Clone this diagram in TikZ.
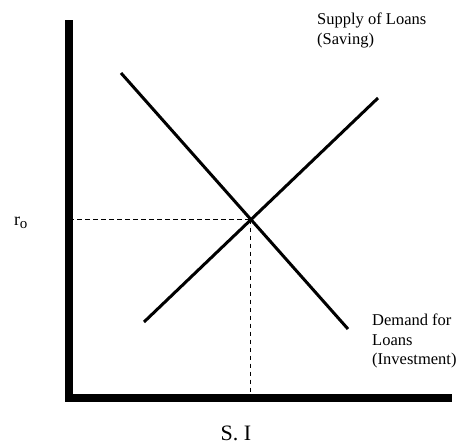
\documentclass[tikz,border=0pt]{standalone}
\usepackage{fontspec}
\setmainfont{Liberation Serif}
\usetikzlibrary{intersections}

\begin{document}
\begin{tikzpicture}[
    x=1pt, y=-1pt,
    font=\fontsize{16.5}{19.5}\selectfont,
    axis/.style={line width=8pt},
    curve/.style={line width=3pt},
    guide/.style={line width=1pt, dash pattern=on 4.5pt off 3.5pt},
    lbl/.style={align=left, inner sep=0pt}
]
\useasboundingbox (0,0) rectangle (460,445);

% Axes corners
\coordinate (ytop) at (69,20);
\coordinate (origin) at (69,398);
\coordinate (xend) at (452,398);

% Curves
\path[name path=demand] (121,73) coordinate (d1) -- (348,329) coordinate (d2);
\path[name path=supply] (144,322) coordinate (s1) -- (378,98) coordinate (s2);
\path[name intersections={of=demand and supply, by=eq}];

% Guides to the equilibrium
\draw[guide] (origin |- eq) -- (eq);
\draw[guide] (eq) -- (eq |- origin);

\draw[curve] (d1) -- (d2);
\draw[curve] (s1) -- (s2);

\draw[axis] (ytop) -- (origin) -- (xend);

% Labels
\node[font=\fontsize{18}{20}\selectfont] (rate) at (21,223) {r\textsubscript{\fontsize{15}{15}\selectfont o}};
\node[lbl, anchor=north west] (supplylbl) at (317,13) {Supply of Loans\\(Saving)};
\node[lbl, anchor=north west] (demandlbl) at (372,314) {Demand for\\Loans\\(Investment)};
\node[font=\fontsize{22}{24}\selectfont] (qty) at (236,433) {S. I};

\end{tikzpicture}
\end{document}
